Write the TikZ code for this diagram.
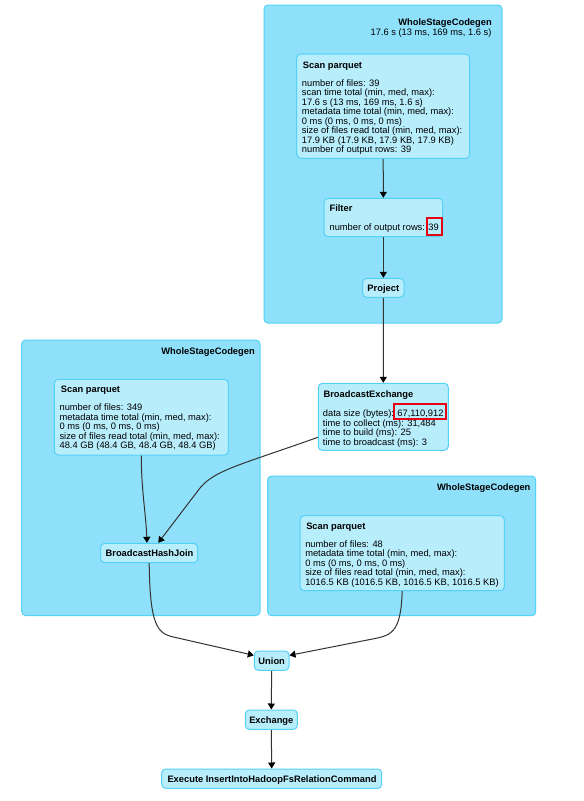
\documentclass[tikz,border=0pt]{standalone}
\usepackage{fontspec}
\setmainfont{Liberation Sans}
\usetikzlibrary{fit,arrows.meta,calc}
\definecolor{clfill}{RGB}{143,225,251}
\definecolor{clborder}{RGB}{84,209,247}
\definecolor{opfill}{RGB}{184,237,252}
\definecolor{opborder}{RGB}{84,209,247}
\definecolor{edgecol}{RGB}{51,51,51}
\definecolor{redmark}{RGB}{230,0,18}
\tikzset{
  cluster/.style={draw=clborder, fill=clfill, rounded corners=3pt, line width=0.75pt, inner sep=0pt},
  opbox/.style={draw=opborder, fill=opfill, rounded corners=3pt, line width=0.75pt, inner sep=0pt},
  txt/.style={inner sep=0pt, anchor=base west},
  ttl/.style={inner sep=0pt, anchor=base west, font=\fontsize{7}{8.4}\selectfont\bfseries},
  ctitle/.style={inner sep=0pt, anchor=base east, font=\fontsize{7}{8.4}\selectfont\bfseries},
  lbl/.style={inner sep=0pt, anchor=base, font=\fontsize{7}{8.4}\selectfont\bfseries},
  edge/.style={draw=edgecol, line width=0.75pt, -{Triangle[length=4.5pt,width=5.3pt,color=black]}},
  redbox/.style={draw=redmark, line width=1.5pt, inner sep=0pt}
}
\begin{document}
\begin{tikzpicture}[x=0.75pt,y=-0.75pt, font=\fontsize{7}{8.4}\selectfont]
\useasboundingbox (0,0) rectangle (584,801);
\fill[white] (0,0) rectangle (584,801);

% clusters
\node[cluster, fit={(264,5)(502,323)}] (wc1) {};
\node[cluster, fit={(21.7,340)(260,615.5)}] (wc2) {};
\node[cluster, fit={(267.7,476)(535.7,615.7)}] (wc3) {};
\node[ctitle] (wc1t) at (492,25.5) {WholeStageCodegen};
\node[inner sep=0pt, anchor=base east] (wc1s) at (491.7,35) {17.6 s (13 ms, 169 ms, 1.6 s)};
\node[ctitle] (wc2t) at (255,354.3) {WholeStageCodegen};
\node[ctitle] (wc3t) at (530.7,490.7) {WholeStageCodegen};

% operator boxes
\node[opbox, fit={(296.7,54)(469.7,158.3)}] (s1) {};
\node[opbox, fit={(324,198.3)(442.7,236.7)}] (filter) {};
\node[opbox, fit={(362.7,278.3)(404,297.3)}] (proj) {};
\node[opbox, fit={(318.3,383.3)(448.3,450.3)}] (be) {};
\node[opbox, fit={(54.3,379.3)(228.3,455)}] (s2) {};
\node[opbox, fit={(100.7,543.3)(197.7,562.7)}] (bhj) {};
\node[opbox, fit={(300,515.7)(504.3,590.7)}] (s3) {};
\node[opbox, fit={(254.3,651)(289,670.3)}] (union) {};
\node[opbox, fit={(245.3,710)(297.3,729.3)}] (exch) {};
\node[opbox, fit={(161.7,769)(381.7,788.3)}] (exec) {};

% texts: scan 1
\node[ttl] (s1t) at (302.7,68) {Scan parquet};
\foreach \t [count=\i from 0] in {{number of files: 39},{scan time total (min, med, max):},{17.6 s (13 ms, 169 ms, 1.6 s)},{metadata time total (min, med, max):},{0 ms (0 ms, 0 ms, 0 ms)},{size of files read total (min, med, max):},{17.9 KB (17.9 KB, 17.9 KB, 17.9 KB)},{number of output rows: 39}}
  \node[txt] (s1l\i) at (301.7,{86+9.5*\i}) {\t};

% filter
\node[ttl] (ft) at (329.3,211.7) {Filter};
\node[txt] (fl) at (329.3,230.3) {number of output rows: 39};
\node[redbox, fit={(426.7,218.3)(442,235)}] (red1) {};

% project
\node[lbl] (pt) at (383.3,291.7) {Project};

% broadcast exchange
\node[ttl] (bet) at (323.3,397.7) {BroadcastExchange};
\foreach \t [count=\i from 0] in {{data size (bytes): 67,110,912},{time to collect (ms): 31,484},{time to build (ms): 25},{time to broadcast (ms): 3}}
  \node[txt] (bel\i) at (322.7,{416.7+9.5*\i}) {\t};
\node[redbox, fit={(394.3,404)(445.7,419)}] (red2) {};

% scan 2
\node[ttl] (s2t) at (60.7,392.3) {Scan parquet};
\foreach \t [count=\i from 0] in {{number of files: 349},{metadata time total (min, med, max):},{0 ms (0 ms, 0 ms, 0 ms)},{size of files read total (min, med, max):},{48.4 GB (48.4 GB, 48.4 GB, 48.4 GB)}}
  \node[txt] (s2l\i) at (59.3,{410.7+9.5*\i}) {\t};

% scan 3
\node[ttl] (s3t) at (306,529.3) {Scan parquet};
\foreach \t [count=\i from 0] in {{number of files: 48},{metadata time total (min, med, max):},{0 ms (0 ms, 0 ms, 0 ms)},{size of files read total (min, med, max):},{1016.5 KB (1016.5 KB, 1016.5 KB, 1016.5 KB)}}
  \node[txt] (s3l\i) at (305,{547+9.5*\i}) {\t};

% small labels
\node[lbl] (bhjt) at (149.5,556.7) {BroadcastHashJoin};
\node[lbl] (ut) at (271.7,664.6) {Union};
\node[lbl] (et) at (271.3,723.6) {Exchange};
\node[lbl] (xt) at (272,782.6) {Execute InsertIntoHadoopFsRelationCommand};

% edges
\draw[edge] (s1.south) -- (filter.north);
\draw[edge] (filter.south) -- (proj.north);
\draw[edge] (proj.south) -- (be.north);
\draw[edge] (s2.south) .. controls (141.3,490) and (146,515) .. ([xshift=-1.65pt]bhj.north);
\draw[edge] ([yshift=-15.4pt]be.west) .. controls (240,465) and (215,470) .. (200,488) -- ([xshift=6.8pt]bhj.north);
\draw[edge] (bhj.south) .. controls (150,635) and (160,634) .. (180,638.5) -- ([yshift=4pt]union.west);
\draw[edge] (s3.south) .. controls (401,635) and (390,635.5) .. (370,639.5) -- ([yshift=4pt]union.east);
\draw[edge] (union.south) -- (exch.north);
\draw[edge] (exch.south) -- (exec.north);
\end{tikzpicture}
\end{document}
